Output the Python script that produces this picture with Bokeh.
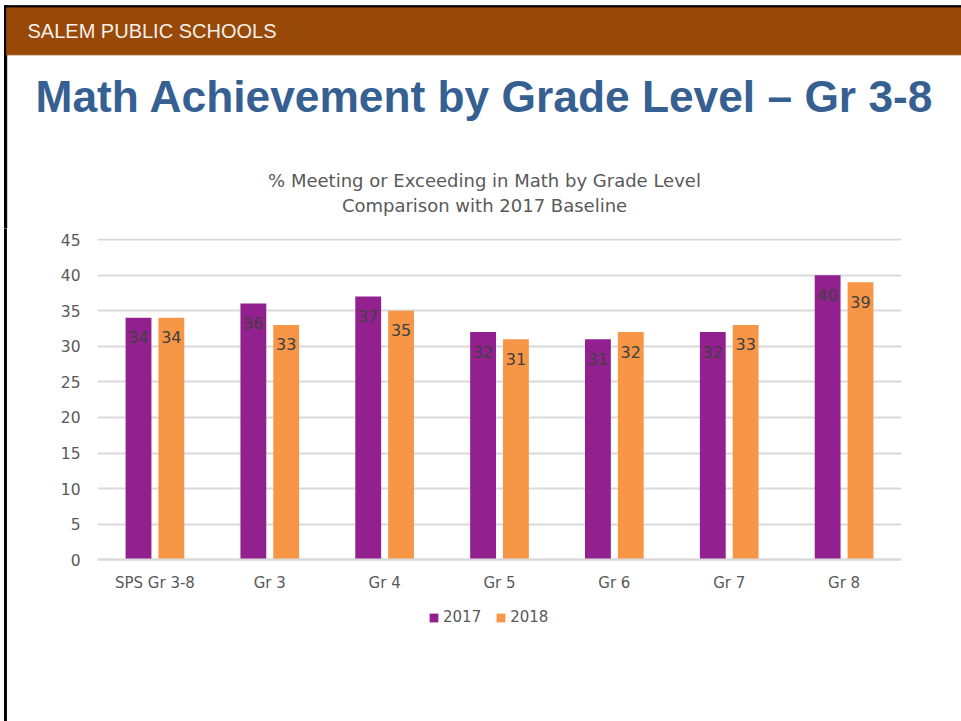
from bokeh.plotting import figure
from bokeh.layouts import column, row
from bokeh.models import (Range1d, FactorRange, ColumnDataSource, Legend, LegendItem,
                          FixedTicker)
from bokeh.transform import dodge
from bokeh.core.properties import value
from bokeh.embed import file_html
from bokeh.resources import INLINE

# ---------------- data ----------------
header_text = "SALEM PUBLIC SCHOOLS"
slide_title = "Math Achievement by Grade Level – Gr 3-8"
chart_title_1 = "% Meeting or Exceeding in Math by Grade Level"
chart_title_2 = "Comparison with 2017 Baseline"
categories = ["SPS Gr 3-8", "Gr 3", "Gr 4", "Gr 5", "Gr 6", "Gr 7", "Gr 8"]
series_names = ["2017", "2018"]
values_2017 = [34, 36, 37, 32, 31, 32, 40]
values_2018 = [34, 33, 35, 31, 32, 33, 39]
y_ticks = [0, 5, 10, 15, 20, 25, 30, 35, 40, 45]

# ---------------- styles ----------------
BROWN = "#984807"
TITLE_BLUE = "#376092"
PURPLE = "#92208F"
ORANGE = "#F79646"
GRAY_TXT = "#595959"
GRID = "#d9d9d9"
CHART_FONT = value("DejaVu Sans")

W = 961
H1 = 228
H2 = 721 - H1
STRIP = 7

# y-scale: 45 units over 320 px; frame extended below 0 to host the legend
Y_TOP = 45.15
Y_BOTTOM = -10.5
PX_PER_UNIT = 320 / 45.0
frame_top = 238
frame_h = (Y_TOP - Y_BOTTOM) * PX_PER_UNIT
frame_bottom = frame_top + frame_h

# ---------------- header figure ----------------
head = figure(width=W, height=H1, x_range=Range1d(0, W), y_range=Range1d(H1, 0),
              output_backend="svg", toolbar_location=None, min_border=0,
              x_axis_type=None, y_axis_type=None, outline_line_color=None,
              background_fill_color="white", border_fill_color="white")
head.frame_align = False
head.quad(left=[4], right=[W], top=[5.2], bottom=[7.4], color="black")
head.quad(left=[4], right=[6.2], top=[5.2], bottom=[H1], color="black")
head.quad(left=[6.2], right=[W], top=[7.4], bottom=[54.3], color=BROWN)
head.text(x=[27], y=[30], text=[header_text], text_font=value("Liberation Sans"),
          text_font_size="20px", text_color="#f4f0ea", text_align="left",
          text_baseline="middle")
head.text(x=[35], y=[95.5], text=[slide_title], text_font=value("Liberation Sans"),
          text_font_size="44.3px", text_font_style="bold", text_color=TITLE_BLUE,
          text_align="left", text_baseline="middle")
head.text(x=[484, 484], y=[180, 205], text=[chart_title_1, chart_title_2],
          text_font=CHART_FONT, text_font_size="18px", text_color=GRAY_TXT,
          text_align="center", text_baseline="middle")

# ---------------- left border strip ----------------
strip = figure(width=STRIP, height=H2, x_range=Range1d(0, STRIP), y_range=Range1d(0, 1),
               output_backend="svg", toolbar_location=None, min_border=0,
               x_axis_type=None, y_axis_type=None, outline_line_color=None,
               background_fill_color="white", border_fill_color="white")
strip.frame_align = False
strip.quad(left=[4], right=[6.2], top=[1], bottom=[0], color="black")

# ---------------- chart figure ----------------
src = ColumnDataSource(dict(
    cat=categories,
    v17=values_2017,
    v18=values_2018,
    l17=[str(v) for v in values_2017],
    l18=[str(v) for v in values_2018],
))

p = figure(width=W - STRIP, height=H2, x_range=FactorRange(*categories),
           y_range=Range1d(Y_BOTTOM, Y_TOP), output_backend="svg", toolbar_location=None,
           min_border_left=97 - STRIP, min_border_right=W - 901,
           min_border_top=frame_top - H1,
           min_border_bottom=int(round(H2 - (frame_bottom - H1))),
           outline_line_color=None,
           background_fill_color="white", border_fill_color="white")
p.frame_align = False

r17 = p.vbar(x=dodge("cat", -0.143, range=p.x_range), top="v17", bottom=0, width=0.225,
             source=src, fill_color=PURPLE, line_color=None)
r18 = p.vbar(x=dodge("cat", 0.143, range=p.x_range), top="v18", bottom=0, width=0.225,
             source=src, fill_color=ORANGE, line_color=None)

p.text(x=dodge("cat", -0.143, range=p.x_range), y="v17", text="l17", source=src,
       y_offset=19.5, text_align="center", text_baseline="middle",
       text_font=CHART_FONT, text_font_size="16px", text_color="#404040")
p.text(x=dodge("cat", 0.143, range=p.x_range), y="v18", text="l18", source=src,
       y_offset=19.5, text_align="center", text_baseline="middle",
       text_font=CHART_FONT, text_font_size="16px", text_color="#404040")

p.xgrid.visible = False
p.ygrid.grid_line_color = GRID
p.ygrid.grid_line_width = 2

p.yaxis.ticker = FixedTicker(ticks=y_ticks)
p.yaxis.axis_line_color = None
p.yaxis.major_tick_line_color = None
p.yaxis.minor_tick_line_color = None
p.yaxis.major_tick_out = 0
p.yaxis.major_tick_in = 0
p.yaxis.major_label_standoff = 17
p.yaxis.major_label_text_font = "DejaVu Sans"
p.yaxis.major_label_text_font_size = "15.5px"
p.yaxis.major_label_text_color = GRAY_TXT

p.xaxis.fixed_location = 0
p.xaxis.axis_line_color = GRID
p.xaxis.axis_line_width = 2
p.xaxis.major_tick_line_color = None
p.xaxis.minor_tick_line_color = None
p.xaxis.major_tick_out = 0
p.xaxis.major_tick_in = 0
p.xaxis.major_label_standoff = 14
p.xaxis.major_label_text_font = "DejaVu Sans"
p.xaxis.major_label_text_font_size = "15px"
p.xaxis.major_label_text_color = GRAY_TXT

legend = Legend(items=[LegendItem(label=series_names[0], renderers=[r17]),
                       LegendItem(label=series_names[1], renderers=[r18])],
                orientation="horizontal", location=(428 - 97, 8),
                glyph_width=11, glyph_height=11, label_standoff=4, spacing=14,
                padding=0, margin=0, border_line_color=None,
                background_fill_alpha=0,
                label_text_font="DejaVu Sans", label_text_font_size="15px",
                label_text_color=GRAY_TXT)
p.add_layout(legend)

layout = column(head, row(strip, p, spacing=0), spacing=0)

open("out.html", "w").write(file_html(layout, INLINE))
